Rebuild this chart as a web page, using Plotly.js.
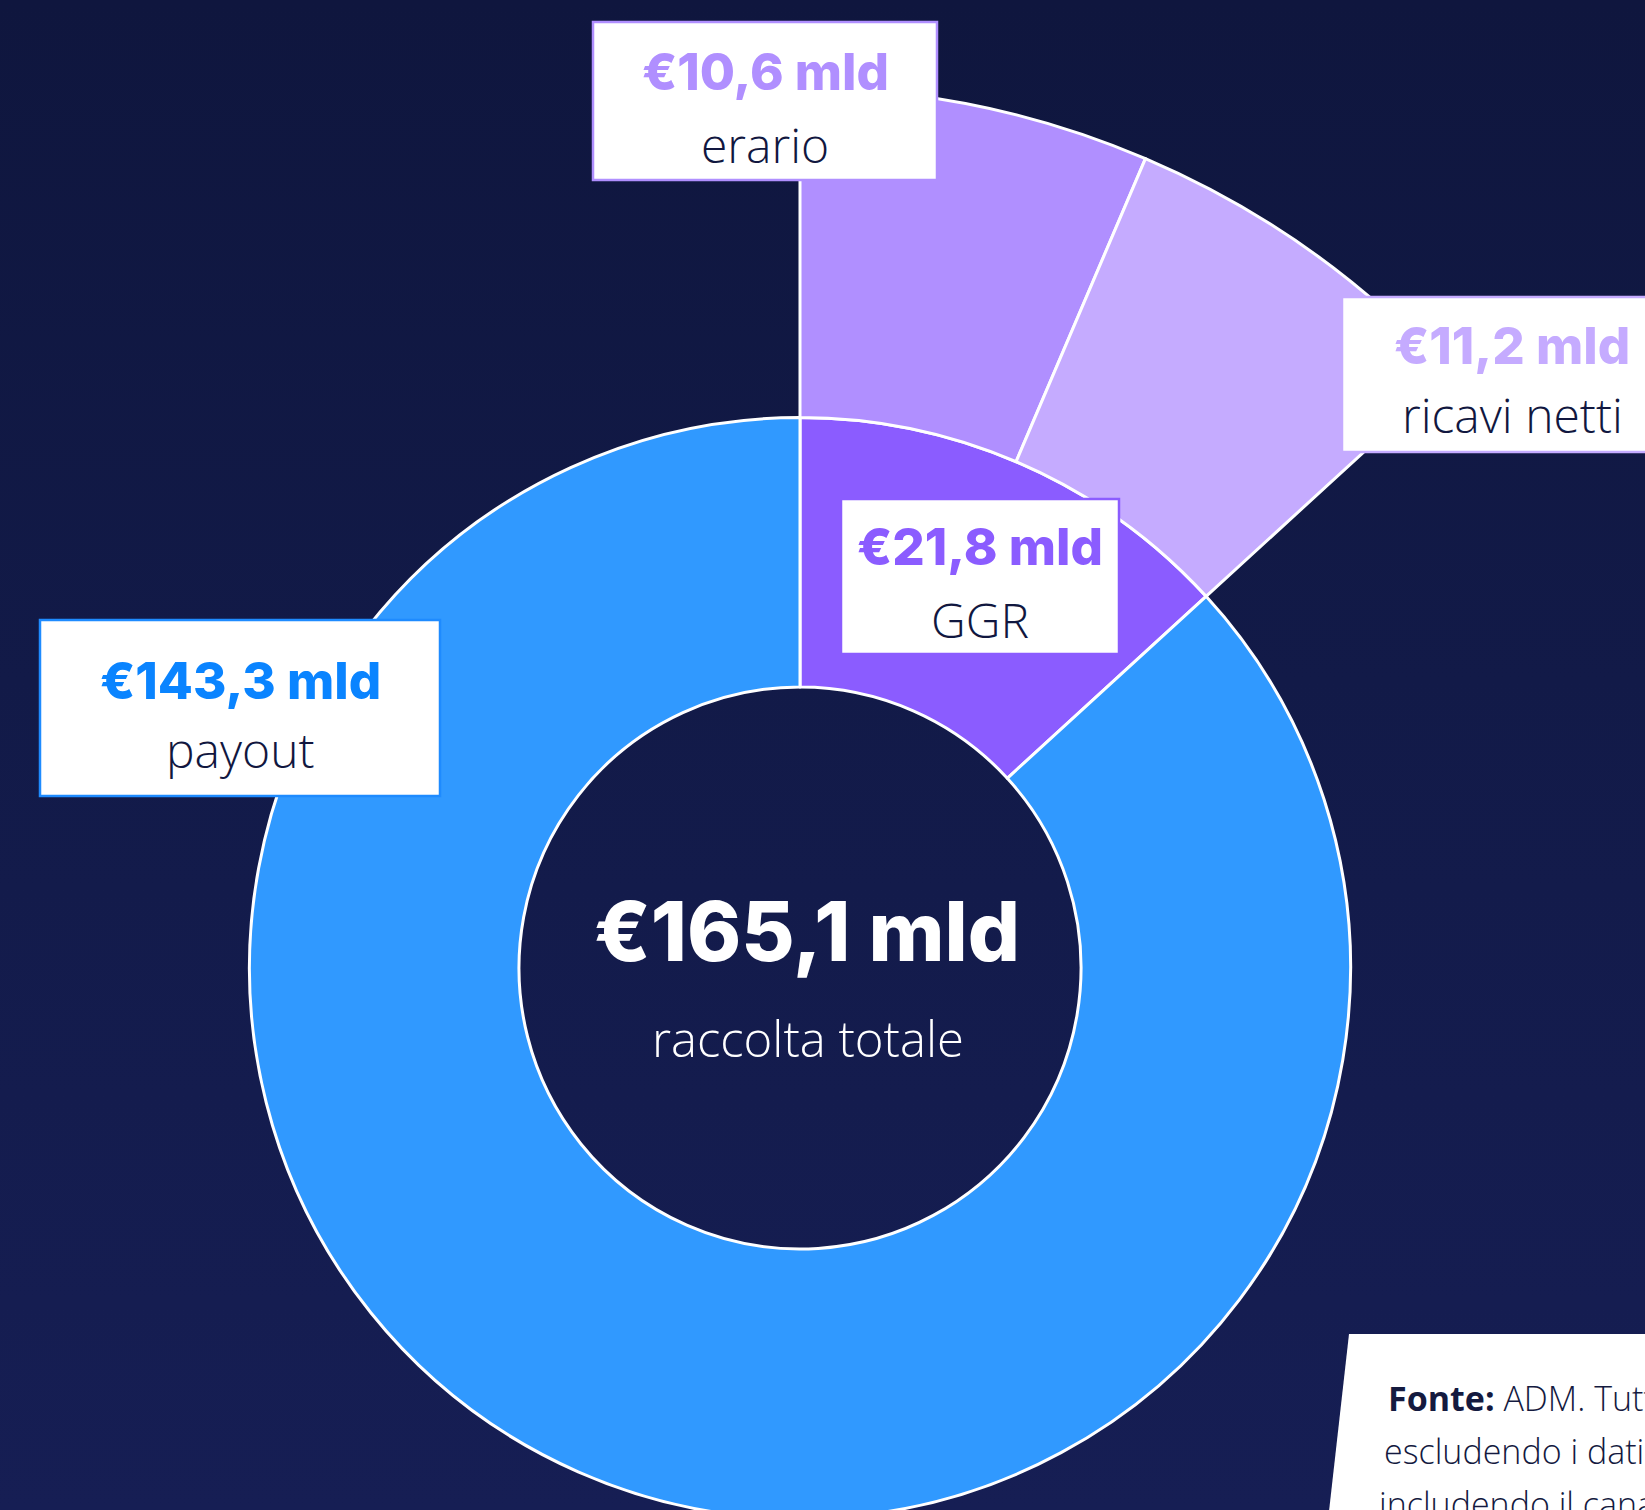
<!DOCTYPE html>
<html>
<head>
<meta charset="utf-8">
<script src="https://cdn.plot.ly/plotly-3.0.1.min.js"></script>
<style>
html,body{margin:0;padding:0;background:#0f163e;}
#frame{position:relative;width:1645px;height:1510px;overflow:hidden;background:linear-gradient(180deg,#0f163e 0%,#121a48 45%,#161e54 100%);}
#chart{position:absolute;left:-200px;top:-33px;width:2000px;height:2000px;}
</style>
</head>
<body>
<div id="frame"><div id="chart"></div></div>
<script>
// ---- data ----
const innerLabels = ['GGR', 'payout'];
const innerValues = [21.8, 143.3];
const outerLabels = ['erario', 'ricavi netti', 'payout'];
const outerValues = [10.6, 11.2, 143.3];
const totalLabel = 'raccolta totale';
const totalValue = 165.1;
const sourceLines = ['<b>Fonte:</b> ADM. Tutti i dati', 'escludendo i dati', 'includendo il canale'];

// ---- styles ----
const C = {
  payout: '#3099ff', payoutText: '#0a84ff', payoutBorder: '#1e8bff',
  ggr: '#8b5cff', erario: '#b08fff', ricavi: '#c5abff',
  dark: '#11173f'
};
const OX = 200, OY = 33, S = 2000;
const X = px => (px + OX) / S;
const Y = py => 1 - (py + OY) / S;
const fmt = v => '€' + v.toFixed(1).replace('.', ',') + ' mld';

const cx = 800, cy = 968, rOuter = 880, rMid = 550.5, rHole = 281;
const dom = r => ({x: [X(cx - r), X(cx + r)], y: [Y(cy + r), Y(cy - r)]});

const innerPie = {
  type: 'pie', labels: innerLabels, values: innerValues, sort: false,
  direction: 'clockwise', rotation: 0, hole: rHole / rMid,
  domain: dom(rMid), textinfo: 'none', hoverinfo: 'skip', showlegend: false,
  marker: {colors: [C.ggr, C.payout], line: {color: '#ffffff', width: 3}}
};
const outerPie = {
  type: 'pie', labels: outerLabels, values: outerValues, sort: false,
  direction: 'clockwise', rotation: 0, hole: rMid / rOuter,
  domain: dom(rOuter), textinfo: 'none', hoverinfo: 'skip', showlegend: false,
  marker: {colors: [C.erario, C.ricavi, 'rgba(0,0,0,0)'],
           line: {color: ['#ffffff', '#ffffff', 'rgba(0,0,0,0)'], width: [3, 3, 0]}}
};

function box(x0, y0, x1, y1, col) {
  return {type: 'rect', xref: 'paper', yref: 'paper', x0: X(x0), x1: X(x1), y0: Y(y1), y1: Y(y0),
          fillcolor: '#ffffff', line: {color: col, width: 2.5}, layer: 'above'};
}
const valFont = (col, size) => ({family: 'Inter, "DejaVu Sans", sans-serif', size: size || 51, color: col, weight: 800});
const labFont = (col, size) => ({family: '"Open Sans", "Noto Sans", sans-serif', size: size || 48, color: col, weight: 300});
function ann(text, x, y, font, xanchor) {
  return {text: text, xref: 'paper', yref: 'paper', x: X(x), y: Y(y), showarrow: false,
          xanchor: xanchor || 'center', yanchor: 'middle', font: font};
}

const shapes = [
  box(593, 22, 937, 180, C.erario),
  box(1342, 297, 1690, 452, C.ricavi),
  box(841, 499, 1119, 654, C.ggr),
  box(40, 620, 440, 796, C.payoutBorder),
  {type: 'path', xref: 'paper', yref: 'paper', layer: 'above', fillcolor: '#ffffff', line: {width: 0},
   path: `M ${X(1349)},${Y(1334)} L ${X(1700)},${Y(1334)} L ${X(1700)},${Y(1600)} L ${X(1319)},${Y(1600)} Z`}
];

const annotations = [
  ann(fmt(outerValues[0]), 765, 72, valFont(C.erario)),
  ann(outerLabels[0], 765, 144, labFont(C.dark)),
  ann(fmt(outerValues[1]), 1512, 345, valFont(C.ricavi)),
  ann(outerLabels[1], 1512, 415, labFont(C.dark)),
  ann(fmt(innerValues[0]), 980, 546.5, valFont(C.ggr)),
  ann(innerLabels[0], 980, 619, labFont(C.dark)),
  ann(fmt(innerValues[1]), 240, 680, valFont(C.payoutText)),
  ann(innerLabels[1], 240, 749, labFont(C.dark)),
  ann(fmt(totalValue), 807, 931.5, valFont('#ffffff', 82)),
  ann(totalLabel, 808, 1038, labFont('#ffffff', 49)),
  ann(sourceLines[0], 1386, 1398, labFont('#141a3f', 34), 'left'),
  ann(sourceLines[1], 1382, 1451, labFont('#141a3f', 34), 'left'),
  ann(sourceLines[2], 1377, 1504, labFont('#141a3f', 34), 'left')
];

Plotly.newPlot('chart', [innerPie, outerPie], {
  width: S, height: S, autosize: false,
  margin: {l: 0, r: 0, t: 0, b: 0, pad: 0},
  paper_bgcolor: 'rgba(0,0,0,0)', plot_bgcolor: 'rgba(0,0,0,0)',
  showlegend: false, shapes: shapes, annotations: annotations
}, {staticPlot: true, displayModeBar: false});
</script>
</body>
</html>
